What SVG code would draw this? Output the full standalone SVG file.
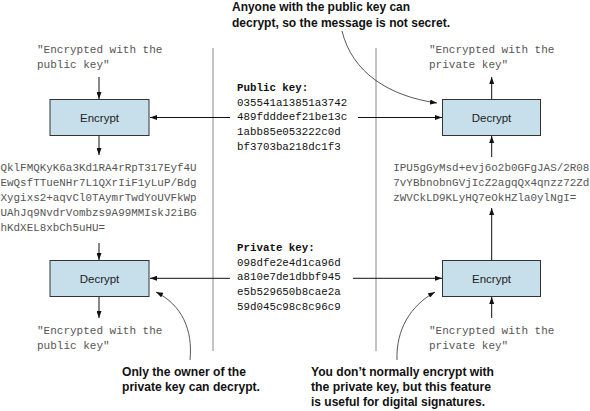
<svg xmlns="http://www.w3.org/2000/svg" width="590" height="411" viewBox="0 0 590 411">
<style>
.box{fill:#c7deeb;stroke:#333;stroke-width:1}
.lbl{font-family:"Liberation Sans",Arial,sans-serif;font-size:11.5px;fill:#222;text-anchor:middle}
.q{font-family:"Liberation Mono","Courier New",monospace;font-size:11px;fill:#555}
.c{font-family:"Liberation Mono","Courier New",monospace;font-size:10.9px;fill:#555}
.k{font-family:"Liberation Mono","Courier New",monospace;font-size:10.8px;fill:#111}
.kb{font-family:"Liberation Mono","Courier New",monospace;font-size:10.8px;fill:#111;font-weight:bold}
.note{font-family:"Liberation Sans",Arial,sans-serif;font-size:13px;font-weight:bold;fill:#111}
.ln{stroke:#111;stroke-width:1;fill:none;marker-end:url(#ah)}
.cv{stroke:#444;stroke-width:0.9;fill:none;marker-end:url(#ah)}
.sep{stroke:#888;stroke-width:1}
</style>
<defs>
<marker id="ah" viewBox="0 0 7 5" refX="7" refY="2.5" markerWidth="7" markerHeight="5" markerUnits="userSpaceOnUse" orient="auto">
<path d="M0,0 L7,2.5 L0,5 z" fill="#111"/>
</marker>
</defs>

<g id="separators">
<line class="sep" x1="213" y1="48" x2="213" y2="351"/>
<line class="sep" x1="376" y1="48" x2="376" y2="351"/>
</g>

<g id="connectors">
<line class="ln" x1="99" y1="77" x2="99" y2="99"/>
<line class="ln" x1="99" y1="135" x2="99" y2="155"/>
<line class="ln" x1="99" y1="243" x2="99" y2="260"/>
<line class="ln" x1="99" y1="296" x2="99" y2="318"/>
<line class="ln" x1="230" y1="117.5" x2="150" y2="117.5"/>
<line class="ln" x1="358" y1="117.5" x2="442" y2="117.5"/>
<line class="ln" x1="230" y1="278.3" x2="150" y2="278.3"/>
<line class="ln" x1="353" y1="278.3" x2="442" y2="278.3"/>
<line class="ln" x1="491.7" y1="99" x2="491.7" y2="77"/>
<line class="ln" x1="491.7" y1="157" x2="491.7" y2="136"/>
<line class="ln" x1="491.7" y1="260" x2="491.7" y2="208"/>
<line class="ln" x1="491.7" y1="318" x2="491.7" y2="297"/>
<path class="cv" d="M342,31 C352,72 388,96 437,103"/>
<path class="cv" d="M190,360 C193,330 182,305 156,292"/>
<path class="cv" d="M397,360 C396,330 410,306 435,292"/>
</g>

<g id="enc-left">
<rect class="box" x="50" y="99.5" width="99" height="36"/>
<text class="lbl" x="99.5" y="121.5">Encrypt</text>
</g>
<g id="dec-left">
<rect class="box" x="50" y="260.5" width="99" height="36"/>
<text class="lbl" x="99.5" y="282.5">Decrypt</text>
</g>
<g id="dec-right">
<rect class="box" x="442.5" y="99.5" width="98" height="36"/>
<text class="lbl" x="491.5" y="121.5">Decrypt</text>
</g>
<g id="enc-right">
<rect class="box" x="442.5" y="260.5" width="98" height="36"/>
<text class="lbl" x="491.5" y="282.5">Encrypt</text>
</g>

<g id="plain-top-left">
<text class="q" x="37" y="53">"Encrypted with the</text>
<text class="q" x="37" y="67.5">public key"</text>
</g>
<g id="plain-bottom-left">
<text class="q" x="37" y="334">"Encrypted with the</text>
<text class="q" x="37" y="348.5">public key"</text>
</g>
<g id="plain-top-right">
<text class="q" x="429" y="53">"Encrypted with the</text>
<text class="q" x="429" y="67.5">private key"</text>
</g>
<g id="plain-bottom-right">
<text class="q" x="429" y="334">"Encrypted with the</text>
<text class="q" x="429" y="348.5">private key"</text>
</g>

<g id="cipher-left">
<text class="c" x="0.5" y="170.5">QklFMQKyK6a3Kd1RA4rRpT317Eyf4U</text>
<text class="c" x="0.5" y="185.5">EwQsfTTueNHr7L1QXrIiF1yLuP/Bdg</text>
<text class="c" x="0.5" y="200.5">Xygixs2+aqvCl0TAymrTwdYoUVFkWp</text>
<text class="c" x="0.5" y="215.5">UAhJq9NvdrVombzs9A99MMIskJ2iBG</text>
<text class="c" x="0.5" y="230.5">hKdXEL8xbCh5uHU=</text>
</g>
<g id="cipher-right">
<text class="c" x="393.3" y="171">IPU5gGyMsd+evj6o2b0GFgJAS/2R08</text>
<text class="c" x="393.3" y="186">7vYBbnobnGVjIcZ2agqQx4qnzz72Zd</text>
<text class="c" x="393.3" y="200.5">zWVCkLD9KLyHQ7eOkHZla0ylNgI=</text>
</g>

<g id="public-key">
<text class="kb" x="237" y="91">Public key:</text>
<text class="k" x="237" y="105.7">035541a13851a3742</text>
<text class="k" x="237" y="120.4">489fdddeef21be13c</text>
<text class="k" x="237" y="135.1">1abb85e053222c0d</text>
<text class="k" x="237" y="149.8">bf3703ba218dc1f3</text>
</g>
<g id="private-key">
<text class="kb" x="237" y="251">Private key:</text>
<text class="k" x="237" y="265.7">098dfe2e4d1ca96d</text>
<text class="k" x="237" y="280.4">a810e7de1dbbf945</text>
<text class="k" x="237" y="295.1">e5b529650b8cae2a</text>
<text class="k" x="237" y="309.8">59d045c98c8c96c9</text>
</g>

<g id="note-top">
<text class="note" x="232" y="11" textLength="178" lengthAdjust="spacingAndGlyphs">Anyone with the public key can</text>
<text class="note" x="232" y="26.5" textLength="218" lengthAdjust="spacingAndGlyphs">decrypt, so the message is not secret.</text>
</g>
<g id="note-bottom-left">
<text class="note" x="122" y="376" textLength="124" lengthAdjust="spacingAndGlyphs">Only the owner of the</text>
<text class="note" x="122" y="391" textLength="138" lengthAdjust="spacingAndGlyphs">private key can decrypt.</text>
</g>
<g id="note-bottom-right">
<text class="note" x="311" y="376" textLength="183" lengthAdjust="spacingAndGlyphs">You don’t normally encrypt with</text>
<text class="note" x="311" y="391" textLength="180" lengthAdjust="spacingAndGlyphs">the private key, but this feature</text>
<text class="note" x="311" y="406" textLength="174" lengthAdjust="spacingAndGlyphs">is useful for digital signatures.</text>
</g>
</svg>
